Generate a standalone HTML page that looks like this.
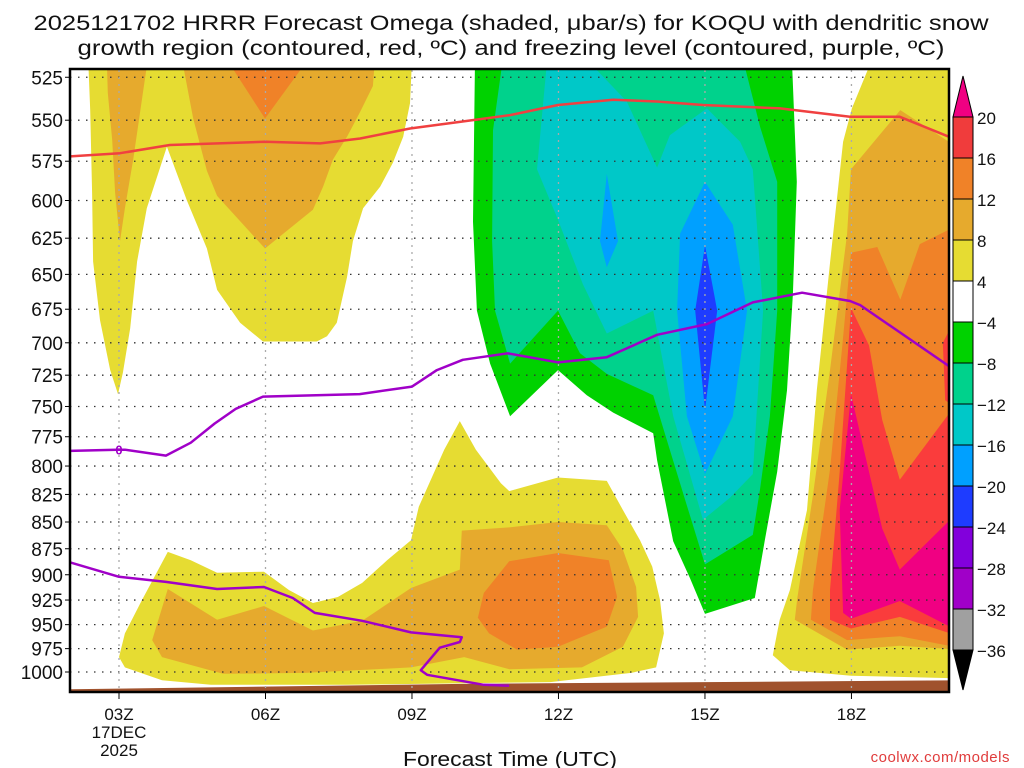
<!DOCTYPE html>
<html><head><meta charset="utf-8"><style>
html,body{margin:0;padding:0;background:#fff;}
svg{display:block;font-family:"Liberation Sans",sans-serif;}
</style></head><body>
<svg id="chart" width="1024" height="768" viewBox="0 0 1024 768" xmlns="http://www.w3.org/2000/svg">
<text x="511" y="30" font-size="21" text-anchor="middle" fill="#111" textLength="955" lengthAdjust="spacingAndGlyphs">2025121702 HRRR Forecast Omega (shaded, μbar/s) for KOQU with dendritic snow</text>
<text x="511" y="55" font-size="21" text-anchor="middle" fill="#111" textLength="867" lengthAdjust="spacingAndGlyphs">growth region (contoured, red, ºC) and freezing level (contoured, purple, ºC)</text>
<defs><clipPath id="plotclip"><rect x="70" y="69" width="879" height="623"/></clipPath></defs>
<g id="fills" clip-path="url(#plotclip)"></g>
<g id="grid"></g>
<g id="lines" clip-path="url(#plotclip)"></g>
<g id="axes"></g>
<g id="cbar"></g>
<text x="510" y="766" font-size="20" text-anchor="middle" fill="#111" textLength="214" lengthAdjust="spacingAndGlyphs">Forecast Time (UTC)</text>
<text x="1010" y="762" font-size="15" text-anchor="end" fill="#e03c3c" letter-spacing="0.5">coolwx.com/models</text>
</svg>
<script>
// ---- data (hour UTC, pressure hPa) ----
const pressureLevels = [525,550,575,600,625,650,675,700,725,750,775,800,825,850,875,900,925,950,975,1000];
const hourTicks = [3,6,9,12,15,18];
const hourLabels = ["03Z","06Z","09Z","12Z","15Z","18Z"];
const cbarLevels = [20,16,12,8,4,-4,-8,-12,-16,-20,-24,-28,-32,-36];
const cbarColors = ["#f03c3c","#f08228","#e6aa2d","#e6dc32","#ffffff","#00d200","#00d28c","#00c8c8","#00a0ff","#1e3cff","#8200dc","#a000c8","#a0a0a0"];
const yellowUpper = [[9.0,515],[8.96,540],[8.82,560],[8.61,576],[8.35,591],[8.0,605],[7.79,627],[7.67,652],[7.46,685],[7.26,695],[7.05,699],[5.95,699],[5.48,685],[5.01,661],[4.8,632],[4.39,600],[3.98,566],[3.57,605],[3.37,641],[3.23,689],[3.08,723],[2.98,740],[2.82,721],[2.61,683],[2.47,641],[2.45,595],[2.41,544],[2.37,515]];
const tanUpperStrip = [[2.75,515],[3.59,515],[3.49,534],[3.29,574],[3.12,605],[3.02,627],[2.92,595],[2.86,562],[2.77,534]];
const tanUpper = [[4.29,515],[8.24,515],[8.2,530],[7.94,545],[7.67,560],[7.38,574],[7.18,591],[6.97,606],[5.99,632],[5.01,597],[4.8,581],[4.52,549]];
const orangeUpper = [[5.21,515],[6.87,515],[5.99,549]];
const yellowLower = [[3.0,984],[3.12,959],[3.47,925],[4.0,878],[4.47,886],[5.01,898],[5.97,897],[6.48,915],[6.97,928],[7.48,922],[7.98,908],[8.49,886],[8.98,867],[9.14,836],[9.66,786],[9.98,762],[10.31,786],[10.82,815],[10.99,822],[11.99,810],[12.99,813],[13.32,839],[13.67,867],[13.92,892],[14.08,925],[14.16,959],[14.0,995],[13.49,1001],[11.83,1011],[7.65,1014],[4.88,1014],[3.88,1009],[3.12,995]];
const tanLower = [[3.68,966],[4.0,914],[5.01,945],[5.97,931],[6.97,956],[7.98,946],[8.98,913],[9.98,895],[10.02,858],[10.99,855],[11.99,850],[12.99,853],[13.32,876],[13.59,912],[13.63,942],[13.32,973],[12.48,995],[10.99,997],[10.07,984],[8.98,995],[6.81,1001],[5.13,1002],[3.88,984]];
const orangeLower = [[10.35,943],[10.47,918],[10.99,887],[11.99,879],[13.03,886],[13.2,922],[12.99,952],[11.99,973],[11.15,976],[10.58,959]];
const yellowRight = [[18.42,515],[20.2,515],[20.2,1007],[17.99,1004],[16.74,998],[16.39,982],[16.53,945],[16.74,915],[17.09,839],[17.29,737],[17.56,642],[17.83,563],[18.01,543]];
const tanRight = [[20.2,567],[19.0,544],[17.99,580],[17.91,622],[17.56,721],[17.21,826],[16.89,924],[16.84,945],[17.91,976],[18.99,972],[20.2,976]];
const orangeRight = [[20.2,616],[19.4,629],[19.0,668],[18.53,631],[17.99,635],[17.81,703],[17.56,803],[17.21,915],[17.17,945],[17.91,966],[18.99,962],[20.2,974]];
const redRight = [[17.99,674],[18.36,702],[18.63,761],[18.99,812],[20.2,745],[20.2,962],[18.99,942],[17.99,954],[17.56,945],[17.56,915],[17.76,805]];
const redEdge = [[20.2,677],[19.87,700],[19.92,745],[20.2,753]];
const magentaRight = [[17.99,740],[18.36,805],[18.63,856],[18.99,895],[20.2,840],[20.2,957],[18.99,926],[17.99,944],[17.83,938],[17.76,839]];
const greenArea = [[10.29,515],[10.25,614],[10.33,676],[10.6,716],[11.01,758],[11.99,721],[12.58,741],[13.12,755],[13.94,772],[14.02,795],[14.35,868],[14.69,903],[15.0,939],[16.02,923],[16.23,866],[16.48,805],[16.68,737],[16.8,664],[16.88,588],[16.78,515]];
const seafoamArea = [[10.86,515],[10.66,556],[10.64,627],[10.7,676],[11.01,716],[11.99,676],[12.44,708],[12.99,724],[13.94,741],[14.28,786],[14.63,835],[15.0,890],[15.98,862],[16.13,820],[16.33,758],[16.48,676],[16.48,588],[16.13,554],[15.78,515]];
const cyanArea = [[11.77,515],[11.56,580],[11.97,611],[12.5,657],[12.99,693],[13.94,676],[14.35,758],[14.96,848],[15.51,828],[15.98,807],[16.19,676],[15.98,580],[15.72,563],[15.04,543],[14.28,559],[14.02,579],[13.4,539],[12.58,515]];
const blueSmall = [[12.99,583],[13.22,627],[12.99,645],[12.85,627]];
const blueArea = [[15.0,588],[15.57,616],[15.86,676],[15.57,758],[15.0,807],[14.63,758],[14.43,676],[14.49,622]];
const darkBlueArea = [[15.0,630],[15.25,676],[15.0,753],[14.8,676]];
const groundTop = [[1.8,1019],[10,1013],[15,1011],[20.2,1009]];
const dgzLine = [[2.0,572],[3.02,570],[4.04,565],[5.99,563],[7.12,564],[7.94,561],[8.96,555],[9.98,551],[11.01,547],[11.99,541],[13.12,538],[14.02,539],[14.96,541],[16.54,543],[17.97,548],[18.99,548],[20.0,560]];
const freezeUpper = [[2.0,787],[2.96,786],[3.12,786],[3.96,791],[4.47,780],[4.96,764],[5.39,752],[5.95,742],[7.93,740],[9.0,734],[9.51,721],[10.04,713],[10.96,708],[11.99,715],[12.99,711],[14.02,694],[15.04,686],[15.98,670],[16.99,663],[17.97,669],[18.18,672],[20.0,718]];
const freezeLower = [[2.0,888],[3.0,902],[3.96,907],[5.01,914],[5.97,912],[6.56,923],[7.01,938],[7.98,946],[8.98,958],[10.02,963],[9.98,968],[9.57,974],[9.18,998],[9.31,1003],[10.47,1014],[10.99,1015]];

// ---- axis functions ----
function X(h){ return 119 + (h-3)*48.83; }
function Y(p){ return 672 - 923*Math.log(1000/p); }
const NS="http://www.w3.org/2000/svg";
function mk(tag, attrs, parent){ const e=document.createElementNS(NS,tag); for(const k in attrs) e.setAttribute(k,attrs[k]); parent.appendChild(e); return e; }
function pts(arr){ return arr.map(d=>X(d[0]).toFixed(1)+","+Y(d[1]).toFixed(1)).join(" "); }

const fillsG=document.getElementById('fills');
const shapes=[
 [yellowUpper,"#e6dc32","yellow-upper-region"],[tanUpperStrip,"#e6aa2d","tan-upper-strip"],[tanUpper,"#e6aa2d","tan-upper-region"],[orangeUpper,"#f08228","orange-upper-region"],
 [yellowLower,"#e6dc32","yellow-lower-region"],[tanLower,"#e6aa2d","tan-lower-region"],[orangeLower,"#f08228","orange-lower-region"],
 [yellowRight,"#e6dc32","yellow-right-region"],[tanRight,"#e6aa2d","tan-right-region"],[orangeRight,"#f08228","orange-right-region"],[redRight,"#fa3c3c","red-right-region"],[redEdge,"#fa3c3c","red-edge-region"],[magentaRight,"#f00082","magenta-right-region"],
 [greenArea,"#00d200","green-region"],[seafoamArea,"#00d28c","seafoam-region"],[cyanArea,"#00c8c8","cyan-region"],[blueSmall,"#00a0ff","blue-small-region"],[blueArea,"#00a0ff","blue-region"],[darkBlueArea,"#1e3cff","dark-blue-region"]
];
shapes.forEach(s=>{
 const el=mk('polygon',{points:pts(s[0]),fill:s[1]},fillsG);
 
 
});
const gpts=groundTop.map(d=>[d[0],d[1]]).concat([[20.2,1040],[1.8,1040]]);
const groundEl=mk('polygon',{points:pts(gpts),fill:"#a0522d"},fillsG);



// grid
const gridG=document.getElementById('grid');
pressureLevels.forEach(p=>{
 const ln=mk('line',{x1:70,x2:948,y1:Y(p),y2:Y(p),stroke:"#333","stroke-width":1.3,"stroke-dasharray":"1.5 6.5"},gridG);
 
 
});
hourTicks.forEach(h=>{
 const ln=mk('line',{x1:X(h),x2:X(h),y1:70,y2:692,stroke:"#aaa","stroke-width":1.3,"stroke-dasharray":"2 5"},gridG);
 
 
});

// lines
const linesG=document.getElementById('lines');
function pl(arr,color,w,name){
 const el=mk('polyline',{points:pts(arr),fill:"none",stroke:color,"stroke-width":w,"stroke-linejoin":"round"},linesG);
 
 
}
pl(dgzLine,"#f04040",2.5,"dendritic-growth-contour");
pl(freezeUpper,"#a000c8",2.5,"freezing-level-upper");
pl(freezeLower,"#a000c8",2.5,"freezing-level-lower");
const zl=mk('text',{x:X(3),y:Y(786)+5,"font-size":13,"font-weight":"bold","text-anchor":"middle",fill:"#a000c8"},linesG);
zl.textContent="0";



// axes
const axesG=document.getElementById('axes');
const frameEl=mk('rect',{x:70,y:69,width:879,height:623,fill:"none",stroke:"#000","stroke-width":2.5},axesG);


pressureLevels.forEach(p=>{
 const t=mk('line',{x1:65,x2:70,y1:Y(p),y2:Y(p),stroke:"#000","stroke-width":1},axesG);
 
 
 const l=mk('text',{x:63,y:Y(p)+7,"font-size":19,"text-anchor":"end",fill:"#111"},axesG);
 l.textContent=p;
 
 
});
hourTicks.forEach((h,i)=>{
 const t=mk('line',{x1:X(h),x2:X(h),y1:692,y2:699,stroke:"#000","stroke-width":1},axesG);
 
 
 const l=mk('text',{x:X(h),y:720,"font-size":17,"text-anchor":"middle",fill:"#111"},axesG);
 l.textContent=hourLabels[i];
 
 
});
const d1=mk('text',{x:X(3),y:738,"font-size":17,"text-anchor":"middle",fill:"#111"},axesG);
d1.textContent="17DEC";


const d2=mk('text',{x:X(3),y:756,"font-size":17,"text-anchor":"middle",fill:"#111"},axesG);
d2.textContent="2025";



// colorbar
const cbG=document.getElementById('cbar');
const cx0=953, cw=20, cy0=117, ch=41.0;
const cbTop=mk('polygon',{points:`${cx0},${cy0} ${cx0+cw},${cy0} ${cx0+cw/2},76`,fill:"#f00082",stroke:"#000","stroke-width":1},cbG);


cbarColors.forEach((c,i)=>{
 const r=mk('rect',{x:cx0,y:cy0+i*ch,width:cw,height:ch,fill:c,stroke:"#000","stroke-width":1},cbG);
 
 
});
const yb=cy0+cbarColors.length*ch;
const cbBot=mk('polygon',{points:`${cx0},${yb} ${cx0+cw},${yb} ${cx0+cw/2},${yb+40}`,fill:"#000",stroke:"#000","stroke-width":1},cbG);


cbarLevels.forEach((v,i)=>{
 const l=mk('text',{x:977,y:cy0+i*ch+7,"font-size":17,fill:"#111"},cbG);
 l.textContent=v<0?"\u2212"+Math.abs(v):String(v);
 
 
});
</script>
</body></html>
